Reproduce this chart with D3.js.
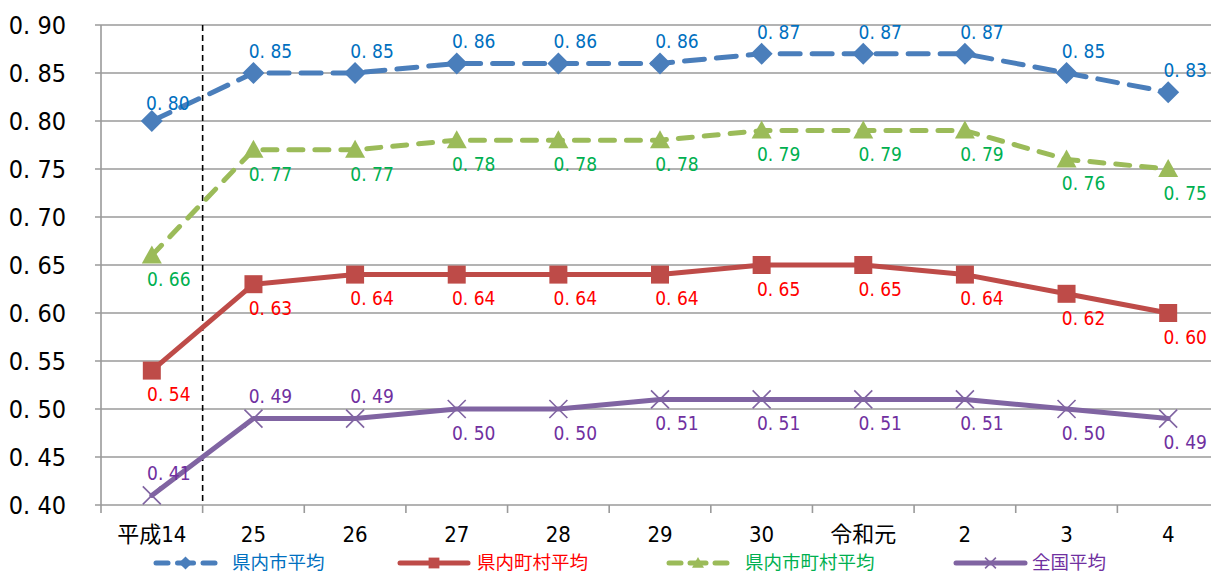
<!DOCTYPE html>
<html><head><meta charset="utf-8">
<script src="https://cdn.jsdelivr.net/npm/d3@7"></script>
<style>body{margin:0;background:#fff}svg{display:block}
text{font-family:"Noto Sans CJK JP","Noto Sans",sans-serif}
text.num{font-family:"DejaVu Sans Condensed","DejaVu Sans","Noto Sans CJK JP",sans-serif;font-stretch:condensed}
</style>
</head><body><svg id="c" width="1211" height="575"></svg>
<script>
const categories = ["平成14","25","26","27","28","29","30","令和元","2","3","4"];
const shiAvg    = [0.80,0.85,0.85,0.86,0.86,0.86,0.87,0.87,0.87,0.85,0.83];
const chosonAvg = [0.54,0.63,0.64,0.64,0.64,0.64,0.65,0.65,0.64,0.62,0.60];
const allAvg    = [0.66,0.77,0.77,0.78,0.78,0.78,0.79,0.79,0.79,0.76,0.75];
const zenkokuAvg= [0.41,0.49,0.49,0.50,0.50,0.51,0.51,0.51,0.51,0.50,0.49];
const yTicks = [0.40,0.45,0.50,0.55,0.60,0.65,0.70,0.75,0.80,0.85,0.90];
const seriesNames = ["県内市平均","県内町村平均","県内市町村平均","全国平均"];

const svg = d3.select("#c");
const L=101, R=1219, T=25, B=505;
const x = d3.scaleBand().domain(categories).range([L,R]);
const y = d3.scaleLinear().domain([0.40,0.90]).range([B,T]);
const cx = c => x(c)+x.bandwidth()/2;
const fmt = v => v.toFixed(2).replace(".",". ");

svg.append("g").selectAll("line").data(yTicks).join("line")
  .attr("x1",95).attr("x2",1211).attr("y1",d=>y(d)).attr("y2",d=>y(d))
  .attr("stroke","#9a9a9a").attr("stroke-width",1.6);
svg.append("line").attr("x1",L).attr("x2",L).attr("y1",T).attr("y2",B+8).attr("stroke","#9a9a9a").attr("stroke-width",1.6);
svg.append("g").selectAll("line").data(categories.slice(1)).join("line")
  .attr("x1",d=>x(d)).attr("x2",d=>x(d)).attr("y1",B).attr("y2",B+8)
  .attr("stroke","#9a9a9a").attr("stroke-width",1.6);
svg.append("g").selectAll("text").data(yTicks).join("text").attr("class","num")
  .attr("x",66).attr("y",d=>y(d)).attr("dy","0.36em").attr("text-anchor","end")
  .attr("font-size",25).attr("fill","#000").text(d=>fmt(d));
svg.append("g").selectAll("text").data(categories).join("text").attr("class","num")
  .attr("x",d=>cx(d)).attr("y",534).attr("dy","0.36em").attr("text-anchor","middle")
  .attr("font-size",22).attr("fill","#000").text(d=>d);
svg.append("line").attr("x1",x(categories[1])).attr("x2",x(categories[1])).attr("y1",T).attr("y2",B)
  .attr("stroke","#000").attr("stroke-width",1.6).attr("stroke-dasharray","6,4");

const series = [
  {name:seriesNames[0], vals:shiAvg, color:"#4a7ebb", lab:"#0070c0", dash:"20,12", marker:"diamond", pos:"above"},
  {name:seriesNames[1], vals:chosonAvg, color:"#be4b48", lab:"#ff0000", dash:null, marker:"square", pos:"below"},
  {name:seriesNames[2], vals:allAvg, color:"#9bbb59", lab:"#00b050", dash:"14,12", marker:"triangle", pos:"below"},
  {name:seriesNames[3], vals:zenkokuAvg, color:"#8064a2", lab:"#7030a0", dash:null, marker:"x", pos:"below"}
];
const line = d3.line().x((d,i)=>cx(categories[i])).y(d=>y(d));

function drawMarker(g, type, color, px, py, s){
  s = s||1;
  if(type==="diamond") g.append("path").attr("d",`M${px},${py-11*s}L${px+11*s},${py}L${px},${py+11*s}L${px-11*s},${py}Z`).attr("fill",color);
  else if(type==="square") g.append("rect").attr("x",px-9*s).attr("y",py-9*s).attr("width",18*s).attr("height",18*s).attr("fill",color);
  else if(type==="triangle") g.append("path").attr("d",`M${px},${py-10*s}L${px+10*s},${py+8*s}L${px-10*s},${py+8*s}Z`).attr("fill",color);
  else if(type==="x") g.append("path").attr("d",`M${px-9*s},${py-9*s}L${px+9*s},${py+9*s}M${px+9*s},${py-9*s}L${px-9*s},${py+9*s}`).attr("stroke",color).attr("stroke-width",1.6).attr("fill","none");
}

series.forEach(s=>{
  const p = svg.append("path").datum(s.vals).attr("d",line).attr("fill","none")
    .attr("stroke",s.color).attr("stroke-width",5).attr("stroke-linejoin","round").attr("stroke-linecap","round");
  if(s.dash) p.attr("stroke-dasharray",s.dash);
  const g = svg.append("g");
  s.vals.forEach((v,i)=>drawMarker(g,s.marker,s.color,cx(categories[i]),y(v)));
});
series.forEach((s,si)=>{
  s.vals.forEach((v,i)=>{
    let px = cx(categories[i])+17, py;
    let pos = s.pos;
    if(si===3 && i<=2) pos="above";
    if(pos==="above") py = y(v)-22; else py = y(v)+24;
    if(si===0 && i===0){ px = cx(categories[i])+16; py = y(v)-18; }
    svg.append("text").attr("class","num").attr("x",px).attr("y",py).attr("dy","0.36em").attr("text-anchor","middle")
      .attr("font-size",19).attr("fill",s.lab).text(fmt(v));
  });
});

const leg = [
  {x1:153,x2:218,tx:232},
  {x1:398,x2:470,tx:477},
  {x1:666,x2:730,tx:745},
  {x1:954,x2:1027,tx:1032}
];
series.forEach((s,i)=>{
  const l = leg[i], ly=563, mx=(l.x1+l.x2)/2;
  if(s.dash){
    svg.append("line").attr("x1",l.x1+3).attr("x2",l.x1+15).attr("y1",ly).attr("y2",ly)
      .attr("stroke",s.color).attr("stroke-width",5).attr("stroke-linecap","round");
    svg.append("line").attr("x1",mx-8).attr("x2",mx+8).attr("y1",ly).attr("y2",ly)
      .attr("stroke",s.color).attr("stroke-width",5).attr("stroke-linecap","round");
    svg.append("line").attr("x1",l.x2-15).attr("x2",l.x2-3).attr("y1",ly).attr("y2",ly)
      .attr("stroke",s.color).attr("stroke-width",5).attr("stroke-linecap","round");
  } else {
    svg.append("line").attr("x1",l.x1+2).attr("x2",l.x2-2).attr("y1",ly).attr("y2",ly)
      .attr("stroke",s.color).attr("stroke-width",5).attr("stroke-linecap","round");
  }
  drawMarker(svg,s.marker,s.color,mx,ly,0.6);
  svg.append("text").attr("x",l.tx).attr("y",ly).attr("dy","0.34em").attr("font-size",18.5).attr("fill",s.lab).text(s.name);
});
</script></body></html>
